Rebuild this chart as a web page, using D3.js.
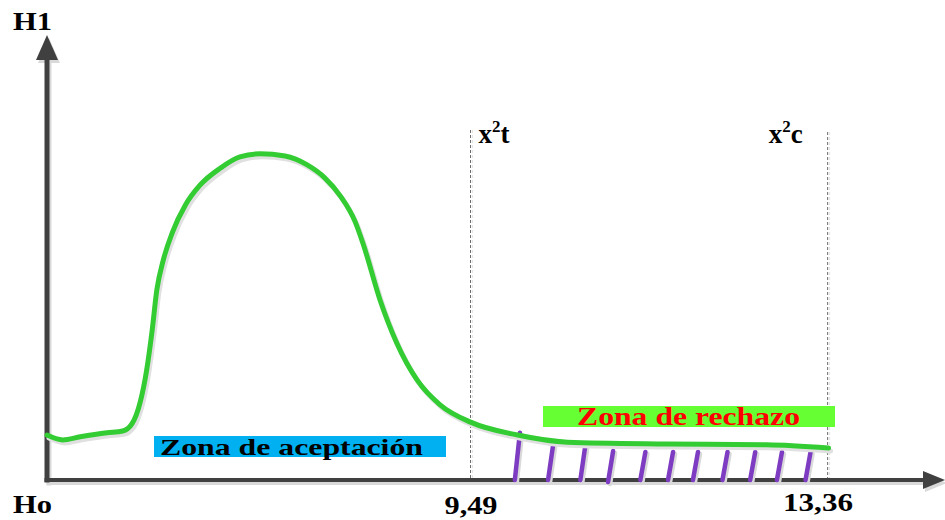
<!DOCTYPE html>
<html>
<head>
<meta charset="utf-8">
<script src="https://cdn.jsdelivr.net/npm/d3@7"></script>
<style>
  html, body { margin: 0; padding: 0; background: #fff; }
</style>
</head>
<body>
<svg id="chart" width="945" height="520" font-family="'Liberation Serif', 'Times New Roman', serif" font-weight="bold"></svg>
<script>
// curve (chi-square style sketch), x in value units, y in relative height
var curveX = [4.90, 5.07, 5.26, 5.55, 5.72, 5.82, 5.91, 5.98, 6.04, 6.09, 6.16, 6.26, 6.40, 6.56, 6.78, 6.99, 7.21, 7.48, 7.72, 7.91, 8.08, 8.24, 8.33, 8.51, 8.69, 8.91, 9.16, 9.49, 10.00, 10.54, 11.62, 12.70, 13.37];
var curveY = [10.1, 9.0, 9.7, 10.6, 11.0, 12.6, 17.5, 24.7, 33.7, 42.7, 49.4, 55.7, 61.8, 66.3, 70.1, 72.6, 73.3, 72.8, 70.8, 67.9, 63.8, 58.0, 52.8, 40.4, 30.8, 22.5, 16.9, 13.0, 10.1, 8.5, 8.1, 7.9, 7.2];

// critical values
var critValues = [9.49, 13.36];
var critLabels = ["9,49", "13,36"];
var critNames = ["t", "c"];

// hatch lines of the rejection zone
var hatchX = [9.97, 10.33, 10.68, 10.98, 11.33, 11.63, 11.90, 12.22, 12.52, 12.81, 13.12];
var hatchTop = [10.6, 7.9, 7.9, 6.5, 6.3, 6.3, 6.3, 6.3, 6.3, 6.3, 6.3];

var zoneLabels = ["Zona de aceptación", "Zona de rechazo"];
var axisLabels = ["H1", "Ho"];

var svg = d3.select("#chart");
var x = d3.scaleLinear().domain([4.9, 14.61]).range([47, 943]);
var y = d3.scaleLinear().domain([0, 100]).range([480, 35]);

var axisColor = "#404040", shadowColor = "#d9d9d9";

// dashed reference lines
critValues.forEach(function(v, i) {
    var top = i == 0 ? 130 : 132;
    svg.append("line")
        .attr("x1", x(v) + 2).attr("x2", x(v) + 2)
        .attr("y1", top).attr("y2", y(0))
        .attr("stroke", "#e4e4e4").attr("stroke-width", 1)
        .attr("stroke-dasharray", "3,2");
    svg.append("line")
        .attr("x1", x(v)).attr("x2", x(v))
        .attr("y1", top).attr("y2", y(0))
        .attr("stroke", "#6a6a6a").attr("stroke-width", 1)
        .attr("stroke-dasharray", "3,2");
});

// axes with shadow
function drawAxes(dx, dy, col) {
    var g = svg.append("g").attr("transform", "translate(" + dx + "," + dy + ")");
    g.append("line")
        .attr("x1", x(4.9)).attr("x2", x(4.9))
        .attr("y1", y(0) + 2.5).attr("y2", 58)
        .attr("stroke", col).attr("stroke-width", 5);
    g.append("path")
        .attr("d", "M" + (x(4.9) - 11) + ",60L" + x(4.9) + ",35L" + (x(4.9) + 11) + ",60Z")
        .attr("fill", col);
    g.append("line")
        .attr("x1", x(4.9) - 2.5).attr("x2", 925)
        .attr("y1", y(0)).attr("y2", y(0))
        .attr("stroke", col).attr("stroke-width", 4);
    g.append("path")
        .attr("d", "M923," + (y(0) - 9) + "L945," + y(0) + "L923," + (y(0) + 9) + "Z")
        .attr("fill", col);
}
drawAxes(2, 3, shadowColor);
drawAxes(0, 0, axisColor);

// hatch lines
var lean = 0.055;
[[2, 2, shadowColor], [0, 0, "#7e3cc2"]].forEach(function(s) {
    svg.append("g").attr("transform", "translate(" + s[0] + "," + s[1] + ")")
        .selectAll("line").data(hatchX).enter().append("line")
        .attr("x1", function(d) { return x(d); })
        .attr("y1", function(d, i) { return i == 3 ? y(0) + 2 : y(0); })
        .attr("x2", function(d) { return x(d + lean); })
        .attr("y2", function(d, i) { return y(hatchTop[i]); })
        .attr("stroke", s[2]).attr("stroke-width", 4.5)
        .attr("stroke-linecap", "round");
});

// curve
var pts = curveX.map(function(v, i) { return [v, curveY[i]]; });
var line = d3.line()
    .x(function(d) { return x(d[0]); })
    .y(function(d) { return y(d[1]); })
    .curve(d3.curveMonotoneX);

svg.append("path").datum(pts)
    .attr("d", line)
    .attr("transform", "translate(2,3)")
    .attr("fill", "none").attr("stroke", "#e0e0e0")
    .attr("stroke-width", 5).attr("stroke-linecap", "round");
svg.append("path").datum(pts)
    .attr("d", line)
    .attr("fill", "none").attr("stroke", "#33cc33")
    .attr("stroke-width", 5).attr("stroke-linecap", "round");

// zone boxes
var zoneBoxes = [
    {x0: 154, x1: 446, y0: 436, y1: 457, fill: "#00b0f0", color: "#000", tx: 160, tw: 263, ty: 455, fs: 24},
    {x0: 543, x1: 835, y0: 406, y1: 427, fill: "#66ff33", color: "#ff0000", tx: 577, tw: 223, ty: 425, fs: 26}
];
zoneBoxes.forEach(function(b, i) {
    svg.append("rect")
        .attr("x", b.x0).attr("y", b.y0)
        .attr("width", b.x1 - b.x0).attr("height", b.y1 - b.y0)
        .attr("fill", b.fill);
    svg.append("text")
        .attr("x", b.tx).attr("y", b.ty)
        .attr("font-size", b.fs + "px")
        .attr("fill", b.color)
        .attr("textLength", b.tw).attr("lengthAdjust", "spacingAndGlyphs")
        .text(zoneLabels[i]);
});

// axis labels
svg.append("text").attr("x", 13).attr("y", 30)
    .attr("font-size", "25px").attr("textLength", 39).attr("lengthAdjust", "spacingAndGlyphs")
    .text(axisLabels[0]);
svg.append("text").attr("x", 13).attr("y", 513)
    .attr("font-size", "25px").attr("textLength", 39).attr("lengthAdjust", "spacingAndGlyphs")
    .text(axisLabels[1]);

// critical value tick labels
var labelPos = [{cx: 471, by: 514, w: 53}, {cx: 818, by: 511, w: 70}];
critValues.forEach(function(v, i) {
    svg.append("text")
        .attr("x", labelPos[i].cx - labelPos[i].w / 2).attr("y", labelPos[i].by)
        .attr("font-size", "25px")
        .attr("textLength", labelPos[i].w).attr("lengthAdjust", "spacingAndGlyphs")
        .text(critLabels[i]);
});

// x²t / x²c labels
var namePos = [x(critValues[0]) + 8, x(critValues[1]) - 59];
critValues.forEach(function(v, i) {
    var t = svg.append("text").attr("x", namePos[i]).attr("y", 143)
        .attr("font-size", "27px");
    t.append("tspan").text("x");
    t.append("tspan").attr("font-size", "17px").attr("dy", -11).text("2");
    t.append("tspan").attr("dy", 11).text(critNames[i]);
});
</script>
</body>
</html>
